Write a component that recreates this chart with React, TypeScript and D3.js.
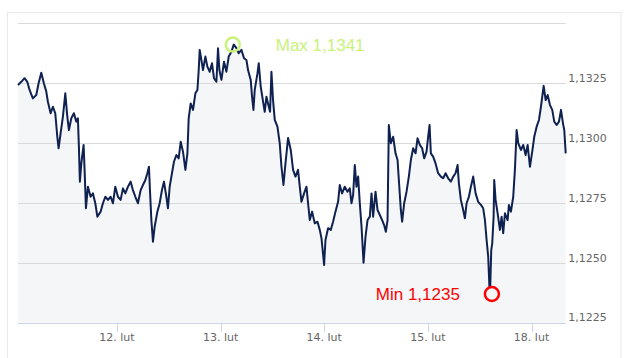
import React from "react";
import * as d3 from "d3";

// trading hours since 11 Feb 00:00 (weekend removed: 18 Feb 00:00 = 120)
const hours = [
  1.1, 1.86, 2.62, 3.25, 3.78, 4.54, 5.33, 5.87, 6.49, 7.09, 7.65, 8.02, 8.65, 9.18, 9.73, 10.2, 10.5, 10.96, 11.5, 12.05,
  12.52, 12.89, 13.44, 14.04, 14.6, 14.97, 15.2, 15.43, 15.76, 16.29, 16.52, 16.83, 17.29, 17.91, 18.45, 19.0, 19.47, 20.23, 20.76, 21.32,
  21.92, 22.55, 23.08, 23.63, 24.24, 24.86, 25.4, 25.95, 26.56, 27.18, 27.71, 28.27, 28.87, 29.5, 30.03, 30.59, 31.05, 31.42, 31.65, 31.98,
  32.35, 32.74, 33.37, 33.9, 34.43, 34.9, 35.45, 35.82, 36.22, 36.75, 37.21, 37.77, 38.3, 38.77, 39.3, 39.86, 40.32, 40.62, 41.08, 41.62,
  42.17, 42.64, 42.94, 43.17, 43.56, 43.93, 44.49, 44.95, 45.49, 46.02, 46.48, 47.04, 47.41, 47.73, 48.2, 48.8, 49.35, 49.89, 50.51, 51.05,
  51.67, 52.2, 52.83, 53.43, 53.99, 54.36, 54.98, 55.29, 55.61, 55.91, 56.54, 56.84, 57.3, 57.84, 58.23, 58.62, 58.99, 59.46, 59.78, 60.15,
  60.55, 61.17, 61.7, 62.1, 62.56, 63.03, 63.63, 64.25, 64.79, 65.34, 65.94, 66.34, 66.73, 67.33, 67.89, 68.26, 68.66, 69.19, 69.81, 70.44,
  70.97, 71.37, 71.97, 72.29, 72.89, 73.52, 74.05, 74.6, 75.21, 75.6, 76.14, 76.76, 77.39, 77.92, 78.31, 78.69, 79.08, 79.47, 79.85, 80.24,
  80.64, 81.1, 81.56, 82.03, 82.56, 82.95, 83.32, 83.88, 84.34, 84.88, 85.41, 85.87, 86.27, 86.66, 86.96, 87.42, 87.96, 88.51, 88.98, 89.28,
  89.74, 90.04, 90.51, 91.06, 91.59, 92.06, 92.59, 93.15, 93.61, 94.14, 94.67, 95.14, 95.69, 96.06, 96.39, 96.69, 97.22, 97.78, 98.38, 99.01,
  99.54, 100.1, 100.7, 101.32, 101.86, 102.41, 102.88, 103.18, 103.64, 104.18, 104.57, 104.96, 105.5, 105.96, 106.49, 107.05, 107.65, 108.28, 108.81, 109.21,
  109.6, 109.97, 110.36, 110.67, 110.9, 111.22, 111.36, 111.68, 112.15, 112.68, 113.07, 113.44, 113.84, 114.46, 114.76, 115.23, 115.76, 116.15, 116.55, 116.92,
  117.54, 118.08, 118.63, 119.1, 119.63, 120.16, 120.63, 121.18, 121.72, 122.18, 122.48, 122.81, 123.27, 123.73, 124.27, 124.8, 125.26, 125.82, 126.35, 126.82,
  127.28, 127.58, 127.91,
];

const prices = [
  1.13242, 1.13255, 1.1327, 1.13255, 1.13221, 1.13186, 1.132, 1.13249, 1.13293, 1.13249, 1.13214, 1.13172, 1.13124, 1.13151, 1.13124, 1.13026, 1.12978, 1.1304, 1.1311, 1.13207,
  1.1311, 1.13054, 1.13103, 1.13124, 1.13089, 1.13103, 1.12985, 1.12839, 1.12915, 1.12992, 1.12888, 1.12728, 1.12818, 1.12776, 1.1279, 1.12749, 1.12693, 1.12714, 1.12749, 1.12776,
  1.12763, 1.12776, 1.12749, 1.12818, 1.12776, 1.12763, 1.12811, 1.1279, 1.12818, 1.12839, 1.12804, 1.12776, 1.12749, 1.12804, 1.12825, 1.12846, 1.12874, 1.12901, 1.12804, 1.12679,
  1.12589, 1.12651, 1.12714, 1.12749, 1.12804, 1.12839, 1.12776, 1.12728, 1.12818, 1.12874, 1.12922, 1.1295, 1.12936, 1.13005, 1.12964, 1.12888, 1.12957, 1.13103, 1.13165, 1.13138,
  1.13207, 1.13221, 1.13304, 1.13388, 1.13346, 1.13304, 1.1336, 1.13318, 1.13297, 1.13332, 1.1327, 1.13255, 1.13395, 1.13304, 1.13263, 1.13339, 1.13297, 1.1336, 1.1338, 1.1341,
  1.13395, 1.13374, 1.13388, 1.13353, 1.13346, 1.13304, 1.13263, 1.13193, 1.13138, 1.13221, 1.1329, 1.13332, 1.13235, 1.13172, 1.1313, 1.13193, 1.13165, 1.1313, 1.13297, 1.13179,
  1.13096, 1.13068, 1.12999, 1.12901, 1.12825, 1.12915, 1.13021, 1.12971, 1.12888, 1.1286, 1.12888, 1.12818, 1.12755, 1.1279, 1.12818, 1.12749, 1.12679, 1.12714, 1.12665, 1.12672,
  1.12638, 1.12603, 1.12492, 1.12596, 1.12645, 1.12638, 1.12672, 1.12714, 1.12755, 1.12825, 1.1279, 1.12818, 1.12797, 1.12811, 1.12749, 1.12783, 1.12908, 1.12818, 1.1286, 1.12749,
  1.12651, 1.12501, 1.1261, 1.12679, 1.12693, 1.1279, 1.12693, 1.12797, 1.12721, 1.127, 1.12679, 1.12658, 1.1263, 1.12679, 1.13075, 1.12999, 1.13026, 1.12957, 1.12929, 1.12846,
  1.12721, 1.12672, 1.12749, 1.12797, 1.1286, 1.12929, 1.12978, 1.12957, 1.1302, 1.12992, 1.12978, 1.12936, 1.12964, 1.13026, 1.13075, 1.12957, 1.12943, 1.12915, 1.12874, 1.1286,
  1.12853, 1.12874, 1.12853, 1.12839, 1.1286, 1.12874, 1.12908, 1.12832, 1.12763, 1.12721, 1.12686, 1.12749, 1.12776, 1.12818, 1.1286, 1.1279, 1.12755, 1.12742, 1.12728, 1.12679,
  1.12596, 1.12526, 1.1235, 1.12554, 1.12582, 1.12693, 1.12846, 1.12763, 1.12707, 1.12638, 1.12693, 1.12624, 1.12707, 1.12679, 1.12742, 1.12714, 1.12776, 1.12888, 1.13054, 1.12999,
  1.12971, 1.12992, 1.1295, 1.12992, 1.12901, 1.12964, 1.13026, 1.13068, 1.13096, 1.13151, 1.13193, 1.13238, 1.13179, 1.132, 1.13158, 1.13138, 1.13089, 1.13075, 1.13089, 1.13138,
  1.13082, 1.13054, 1.12957,
];

const xTickHours = [24, 48, 72, 96, 120];
const xTickLabels = ["12. lut", "13. lut", "14. lut", "15. lut", "18. lut"];
const yTicks = [1.1225, 1.125, 1.1275, 1.13, 1.1325, 1.135];
const maxLabel = "Max 1,1341";
const minLabel = "Min 1,1235";
const maxValue = 1.1341;
const minValue = 1.1235;

const W = 629;
const H = 358;
const plot = { left: 18, right: 565.7, top: 23, bottom: 323 };

export default function App() {
  const data = hours.map((h, i) => ({ h, v: prices[i] }));
  const x = d3.scaleLinear().domain(d3.extent(hours) as [number, number]).range([plot.left, plot.right]);
  const y = d3.scaleLinear().domain([yTicks[0], yTicks[yTicks.length - 1]]).range([plot.bottom, plot.top]);

  const line = d3.line<{ h: number; v: number }>().x((d) => x(d.h)).y((d) => y(d.v));
  const area = d3
    .area<{ h: number; v: number }>()
    .x((d) => x(d.h))
    .y0(plot.bottom)
    .y1((d) => y(d.v));

  const fmt = (v: number) => d3.format(".4f")(v).replace(".", ",");

  const maxIdx = d3.maxIndex(prices);
  const minIdx = d3.minIndex(prices);
  const maxCx = x(hours[maxIdx]) - 1;
  const maxCy = y(maxValue);
  const minCx = x(hours[minIdx]) + 2;
  const minCy = y(minValue) - 5;

  const axisFont = "'DejaVu Sans', Verdana, sans-serif";
  const annFont = "'Liberation Sans', Arial, Helvetica, sans-serif";

  return (
    <svg width={W} height={H} style={{ position: "absolute", left: 0, top: 0, background: "#fff" }}>
      <rect x={7.5} y={12.5} width={613.5} height={400} fill="#fff" stroke="#e8e8e8" strokeWidth={1} />
      <path d={area(data) || ""} fill="#f4f6f8" />
      {yTicks.map((t) =>
        t === yTicks[0] ? null : (
          <line key={"g" + t} x1={plot.left} x2={plot.right} y1={Math.round(y(t)) + 0.5} y2={Math.round(y(t)) + 0.5} stroke="#d9d9d9" strokeWidth={1} />
        )
      )}
      <path d={line(data) || ""} fill="none" stroke="#0f2150" strokeWidth={2} strokeLinejoin="round" />
      <line x1={plot.left} x2={plot.right} y1={plot.bottom + 0.5} y2={plot.bottom + 0.5} stroke="#ccd6eb" strokeWidth={1} />
      {xTickHours.map((h, i) => (
        <g key={h}>
          <line x1={Math.round(x(h)) + 0.5} x2={Math.round(x(h)) + 0.5} y1={plot.bottom} y2={plot.bottom + 9} stroke="#ccd6eb" strokeWidth={1} />
          <text x={x(h)} y={plot.bottom + 18} textAnchor="middle" fontFamily={axisFont} fontSize={11} fill="#666">
            {xTickLabels[i]}
          </text>
        </g>
      ))}
      {yTicks.slice(0, yTicks.length - 1).map((t, i) => (
        <text key={"l" + t} x={plot.right + 2.5} y={y(t) - (i === 0 ? 2 : 1)} fontFamily={axisFont} fontSize={11} fill="#666">
          {fmt(t)}
        </text>
      ))}
      <circle cx={maxCx} cy={maxCy} r={7} fill="none" stroke="#c8f27a" strokeWidth={2.5} />
      <text x={maxCx + 43} y={maxCy + 6.5} fontFamily={annFont} fontSize={17} fill="#c8f27a">
        {maxLabel}
      </text>
      <circle cx={minCx} cy={minCy} r={7} fill="#f4f6f8" stroke="#ff0000" strokeWidth={2.5} />
      <text x={minCx - 32} y={minCy + 5.5} textAnchor="end" fontFamily={annFont} fontSize={17} fill="#ff0000">
        {minLabel}
      </text>
    </svg>
  );
}
